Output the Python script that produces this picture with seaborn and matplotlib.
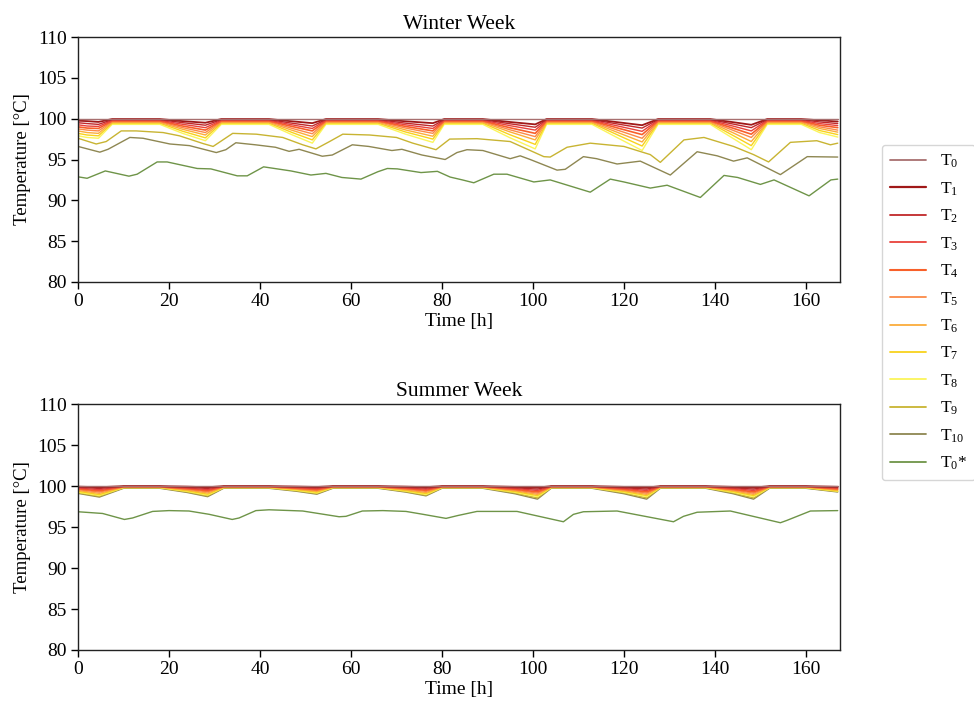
import matplotlib
matplotlib.use("Agg")
import matplotlib.pyplot as plt
from matplotlib.lines import Line2D
import pandas as pd
import seaborn as sns

# ---------------- data ----------------
SERIES = ["T0", "T1", "T2", "T3", "T4", "T5", "T6", "T7", "T8", "T9", "T10", "T0*"]
LABELS = [r"$\mathrm{T_{0}}$", r"$\mathrm{T_{1}}$", r"$\mathrm{T_{2}}$", r"$\mathrm{T_{3}}$",
          r"$\mathrm{T_{4}}$", r"$\mathrm{T_{5}}$", r"$\mathrm{T_{6}}$", r"$\mathrm{T_{7}}$",
          r"$\mathrm{T_{8}}$", r"$\mathrm{T_{9}}$", r"$\mathrm{T_{10}}$", r"$\mathrm{T_{0}}$*"]
COLORS = ["#a87070", "#a01818", "#c0282a", "#e8423c", "#f8602a", "#fb8a48",
          "#fbac3c", "#f8d21c", "#fbf55a", "#c8b432", "#8e8752", "#6e9448"]

X_TICKS = [0, 20, 40, 60, 80, 100, 120, 140, 160]
Y_TICKS = [80, 85, 90, 95, 100, 105, 110]

FLAT_H = [0, 167]
T0_FLAT = [100.0, 100.0]

# ---- Winter week ----
W_FAN_H = [0, 2, 4.5, 7.5, 18, 23, 28, 31.5, 42, 47, 51.5, 54.5, 66, 72, 78, 80.5,
           89, 95, 100.5, 103, 113, 119, 124, 127.5, 139, 144, 148, 151.5, 159, 163, 167]
W_T1 = [99.75, 99.70, 99.60, 99.95, 99.95, 99.70, 99.50, 99.95, 99.95, 99.68, 99.45, 99.95, 99.95, 99.68, 99.45, 99.95,
        99.95, 99.59, 99.30, 99.95, 99.95, 99.54, 99.20, 99.95, 99.95, 99.57, 99.25, 99.95, 99.95, 99.80, 99.65]
W_T2 = [99.50, 99.40, 99.30, 99.88, 99.88, 99.51, 99.20, 99.88, 99.88, 99.45, 99.10, 99.88, 99.88, 99.45, 99.10, 99.88,
        99.88, 99.37, 98.95, 99.88, 99.88, 99.31, 98.85, 99.88, 99.88, 99.34, 98.90, 99.88, 99.88, 99.60, 99.40]
W_T3 = [99.25, 99.10, 99.05, 99.80, 99.80, 99.31, 98.90, 99.80, 99.80, 99.25, 98.80, 99.80, 99.80, 99.25, 98.80, 99.80,
        99.80, 99.14, 98.60, 99.80, 99.80, 99.06, 98.45, 99.80, 99.80, 99.09, 98.50, 99.80, 99.80, 99.40, 99.15]
W_T4 = [99.00, 98.85, 98.80, 99.72, 99.72, 99.10, 98.60, 99.72, 99.72, 99.05, 98.50, 99.72, 99.72, 99.05, 98.50, 99.72,
        99.72, 98.88, 98.20, 99.72, 99.72, 98.80, 98.05, 99.72, 99.72, 98.83, 98.10, 99.72, 99.72, 99.20, 98.90]
W_T5 = [98.75, 98.60, 98.50, 99.64, 99.64, 98.90, 98.30, 99.64, 99.64, 98.82, 98.15, 99.64, 99.64, 98.85, 98.20, 99.64,
        99.64, 98.63, 97.80, 99.64, 99.64, 98.52, 97.60, 99.64, 99.64, 98.57, 97.70, 99.64, 99.64, 99.00, 98.60]
W_T6 = [98.50, 98.30, 98.20, 99.55, 99.55, 98.70, 98.00, 99.55, 99.55, 98.59, 97.80, 99.55, 99.55, 98.62, 97.85, 99.55,
        99.55, 98.37, 97.40, 99.55, 99.55, 98.23, 97.15, 99.55, 99.55, 98.27, 97.20, 99.55, 99.55, 98.80, 98.35]
W_T7 = [98.20, 98.00, 97.90, 99.45, 99.45, 98.46, 97.65, 99.45, 99.45, 98.32, 97.40, 99.45, 99.45, 98.37, 97.50, 99.45,
        99.45, 98.02, 96.85, 99.45, 99.45, 97.91, 96.65, 99.45, 99.45, 97.94, 96.70, 99.45, 99.45, 98.55, 98.05]
W_T8 = [97.90, 97.70, 97.60, 99.30, 99.30, 98.20, 97.30, 99.30, 99.30, 98.04, 97.00, 99.30, 99.30, 98.10, 97.10, 99.30,
        99.30, 97.65, 96.30, 99.30, 99.30, 97.54, 96.10, 99.30, 99.30, 97.58, 96.20, 99.30, 99.30, 98.30, 97.75]

W_T9_H = [0, 4, 6.2, 9.5, 12.8, 18.7, 22.3, 27.5, 29.7, 34, 39.2, 45, 49.4, 52.3, 55.3, 58.2, 64.1, 70, 73.6,
          78.7, 81.7, 87.7, 95, 102.4, 103.8, 107.5, 112.6, 120, 125.8, 128, 133.2, 137.6, 144.1, 148.5,
          151.8, 156.6, 162.4, 165.4, 167]
W_T9 = [97.6, 96.9, 97.2, 98.5, 98.5, 98.3, 97.9, 96.95, 96.6, 98.2, 98.1, 97.7, 96.8, 96.3, 97.2, 98.1, 98.0, 97.7, 97.0,
        96.2, 97.5, 97.55, 97.2, 95.35, 95.3, 96.5, 97.0, 96.6, 95.6, 94.65, 97.4, 97.7, 96.6, 95.6,
        94.7, 97.1, 97.3, 96.8, 97.0]

W_T10_H = [0, 4.8, 6.6, 11.4, 14.3, 20.2, 24.5, 30.4, 32.5, 34.7, 39, 43.4, 46.4, 48.6, 53.7, 55.9, 60.3, 63.9,
           69, 71.2, 75.6, 80.7, 83.3, 85.5, 89, 95, 97.2, 99.4, 105.3, 107.1, 111.1, 114, 118.5, 123.6,
           130.2, 136.1, 140.5, 144.1, 147.1, 154.4, 160.3, 167]
W_T10 = [96.6, 95.9, 96.25, 97.7, 97.6, 96.9, 96.7, 95.85, 96.2, 97.05, 96.8, 96.5, 96.0, 96.25, 95.4, 95.55, 96.8, 96.6,
         96.1, 96.25, 95.55, 95.0, 95.85, 96.2, 96.1, 95.1, 95.45, 95.0, 93.7, 93.8, 95.35, 95.1, 94.45, 94.8,
         93.1, 95.95, 95.45, 94.8, 95.2, 93.15, 95.35, 95.3]

W_T0S_H = [0, 2, 6, 11.2, 13, 17.4, 19.6, 26.2, 29.2, 35, 37.2, 40.8, 43.8, 46.8, 51.2, 54.5, 58, 62.2, 65.9, 68,
           70.2, 75.4, 79, 81.8, 84.5, 87, 91.4, 94.3, 100.2, 103.8, 112.6, 117, 120, 125.8, 129.5, 136.8,
           142, 145, 150, 153, 160.7, 165.5, 167]
W_T0S = [92.88, 92.7, 93.6, 92.96, 93.2, 94.7, 94.7, 93.9, 93.85, 93.0, 93.0, 94.1, 93.85, 93.6, 93.1, 93.3, 92.8, 92.6,
         93.5, 93.9, 93.85, 93.4, 93.55, 92.85, 92.5, 92.15, 93.2, 93.2, 92.25, 92.5, 91.0, 92.6, 92.25, 91.5, 91.85,
         90.35, 93.05, 92.8, 91.95, 92.5, 90.55, 92.5, 92.6]

# ---- Summer week ----
S_FAN_H = [0, 4.7, 10, 18, 24, 28.5, 32, 42, 48, 52.5, 56, 66, 72, 76.5, 80, 89, 96, 101, 104,
           113, 120, 125, 128, 138, 144, 148.5, 152, 160, 167]
S_T1 = [99.92, 99.85, 99.98, 99.98, 99.92, 99.85, 99.98, 99.98, 99.93, 99.88, 99.98, 99.98, 99.92, 99.86, 99.98,
        99.98, 99.89, 99.80, 99.98, 99.98, 99.89, 99.80, 99.98, 99.98, 99.89, 99.80, 99.98, 99.98, 99.90]
S_T2 = [99.85, 99.70, 99.96, 99.96, 99.83, 99.70, 99.96, 99.96, 99.87, 99.78, 99.96, 99.96, 99.85, 99.73, 99.96,
        99.96, 99.79, 99.62, 99.96, 99.96, 99.79, 99.62, 99.96, 99.96, 99.79, 99.62, 99.96, 99.96, 99.82]
S_T3 = [99.75, 99.55, 99.94, 99.94, 99.75, 99.55, 99.94, 99.94, 99.80, 99.66, 99.94, 99.94, 99.77, 99.60, 99.94,
        99.94, 99.70, 99.45, 99.94, 99.94, 99.70, 99.45, 99.94, 99.94, 99.70, 99.45, 99.94, 99.94, 99.74]
S_T4 = [99.65, 99.40, 99.92, 99.92, 99.67, 99.42, 99.92, 99.92, 99.73, 99.55, 99.92, 99.92, 99.70, 99.47, 99.92,
        99.92, 99.60, 99.28, 99.92, 99.92, 99.60, 99.28, 99.92, 99.92, 99.60, 99.28, 99.92, 99.92, 99.65]
S_T5 = [99.55, 99.25, 99.90, 99.90, 99.59, 99.28, 99.90, 99.90, 99.67, 99.45, 99.90, 99.90, 99.62, 99.34, 99.90,
        99.90, 99.51, 99.12, 99.90, 99.90, 99.51, 99.12, 99.90, 99.90, 99.51, 99.12, 99.90, 99.90, 99.57]
S_T6 = [99.45, 99.10, 99.87, 99.87, 99.50, 99.14, 99.87, 99.87, 99.61, 99.35, 99.87, 99.87, 99.53, 99.20, 99.87,
        99.87, 99.42, 98.97, 99.87, 99.87, 99.42, 98.97, 99.87, 99.87, 99.42, 98.97, 99.87, 99.87, 99.50]
S_T7 = [99.35, 98.95, 99.84, 99.84, 99.42, 99.00, 99.84, 99.84, 99.55, 99.25, 99.84, 99.84, 99.46, 99.08, 99.84,
        99.84, 99.33, 98.83, 99.84, 99.84, 99.33, 98.83, 99.84, 99.84, 99.33, 98.83, 99.84, 99.84, 99.43]
S_T8 = [99.25, 98.85, 99.80, 99.80, 99.35, 98.90, 99.80, 99.80, 99.48, 99.16, 99.80, 99.80, 99.39, 98.98, 99.80,
        99.80, 99.25, 98.70, 99.80, 99.80, 99.25, 98.70, 99.80, 99.80, 99.25, 98.70, 99.80, 99.80, 99.37]
S_T9 = [99.18, 98.75, 99.77, 99.77, 99.28, 98.80, 99.77, 99.77, 99.42, 99.08, 99.77, 99.77, 99.32, 98.88, 99.77,
        99.77, 99.16, 98.55, 99.77, 99.77, 99.16, 98.55, 99.77, 99.77, 99.16, 98.55, 99.77, 99.77, 99.32]
S_T10 = [99.10, 98.65, 99.72, 99.72, 99.21, 98.70, 99.72, 99.72, 99.36, 99.00, 99.72, 99.72, 99.26, 98.80, 99.72,
         99.72, 99.06, 98.40, 99.72, 99.72, 99.06, 98.40, 99.72, 99.72, 99.06, 98.40, 99.72, 99.72, 99.27]

S_T0S_H = [0, 5.4, 10.2, 12, 16.4, 20, 24.4, 28.8, 33.9, 35.4, 39.1, 42, 49.4, 57.4, 58.9, 62.5, 67, 72.1, 75.8,
           80.9, 83.5, 87.7, 96.5, 106.7, 108.9, 111.1, 118.5, 130.9, 133.1, 136.1, 143.4, 154.4, 155.8, 161, 167]
S_T0S = [96.86, 96.65, 95.92, 96.1, 96.9, 97.0, 96.95, 96.55, 95.92, 96.1, 97.0, 97.1, 96.95, 96.25, 96.3, 96.95,
         97.0, 96.9, 96.55, 96.05, 96.4, 96.9, 96.9, 95.64, 96.54, 96.86, 96.95, 95.64, 96.3, 96.8, 96.95, 95.52,
         95.8, 96.95, 97.0]

WINTER = {
    "T0": (FLAT_H, T0_FLAT), "T1": (W_FAN_H, W_T1), "T2": (W_FAN_H, W_T2), "T3": (W_FAN_H, W_T3),
    "T4": (W_FAN_H, W_T4), "T5": (W_FAN_H, W_T5), "T6": (W_FAN_H, W_T6), "T7": (W_FAN_H, W_T7),
    "T8": (W_FAN_H, W_T8), "T9": (W_T9_H, W_T9), "T10": (W_T10_H, W_T10), "T0*": (W_T0S_H, W_T0S),
}
SUMMER = {
    "T0": (FLAT_H, T0_FLAT), "T1": (S_FAN_H, S_T1), "T2": (S_FAN_H, S_T2), "T3": (S_FAN_H, S_T3),
    "T4": (S_FAN_H, S_T4), "T5": (S_FAN_H, S_T5), "T6": (S_FAN_H, S_T6), "T7": (S_FAN_H, S_T7),
    "T8": (S_FAN_H, S_T8), "T9": (S_FAN_H, S_T9), "T10": (S_FAN_H, S_T10), "T0*": (S_T0S_H, S_T0S),
}


def long_df(panel):
    parts = []
    for name in SERIES:
        h, v = panel[name]
        parts.append(pd.DataFrame({"hour": h, "temp": v, "series": name}))
    return pd.concat(parts, ignore_index=True)


# ---------------- style ----------------
sns.set_theme(style="ticks")
plt.rcParams["font.family"] = ["Liberation Serif", "DejaVu Serif"]
plt.rcParams["mathtext.fontset"] = "custom"
plt.rcParams["mathtext.rm"] = "Liberation Serif"
plt.rcParams["mathtext.it"] = "Liberation Serif:italic"
plt.rcParams["axes.edgecolor"] = "#222222"
plt.rcParams["axes.linewidth"] = 1.0
plt.rcParams["text.color"] = "black"
plt.rcParams["axes.labelcolor"] = "black"
plt.rcParams["xtick.color"] = "black"
plt.rcParams["ytick.color"] = "black"

fig = plt.figure(figsize=(9.74, 7.10), dpi=100)
L, W = 78 / 974, (840 - 78) / 974
ax_w = fig.add_axes([L, 1 - 282 / 710, W, 245 / 710])
ax_s = fig.add_axes([L, 1 - 650 / 710, W, 246 / 710])

LW = {name: 1.0 for name in SERIES}
LW["T1"] = 1.3
LW["T4"] = 1.2

for ax, panel, title in [(ax_w, WINTER, "Winter Week"), (ax_s, SUMMER, "Summer Week")]:
    df = long_df(panel)
    for name, color in reversed(list(zip(SERIES, COLORS))):
        sub = df[df["series"] == name]
        sns.lineplot(data=sub, x="hour", y="temp", color=color, lw=LW[name],
                     estimator=None, ax=ax, legend=False)
    ax.set_xlim(0, 167.5)
    ax.set_ylim(80, 110)
    ax.set_xticks(X_TICKS)
    ax.set_yticks(Y_TICKS)
    ax.tick_params(axis="both", labelsize=14, length=5, width=1, direction="out",
                   colors="black", pad=3)
    ax.set_xlabel("Time [h]", fontsize=14, labelpad=2)
    ax.set_ylabel("Temperature [°C]", fontsize=13.5, labelpad=5)
    ax.set_title(title, fontsize=15.5, pad=6, color="black")
    for sp in ax.spines.values():
        sp.set_visible(True)

handles = [Line2D([0], [0], color=c, lw=LW[n] + 0.3) for n, c in zip(SERIES, COLORS)]
leg = fig.legend(handles, LABELS, loc="upper left", bbox_to_anchor=(882 / 974, 1 - 145 / 710),
                 fontsize=12.5, frameon=True, fancybox=True, handlelength=2.1,
                 handletextpad=0.8, labelspacing=0.58, borderpad=0.45, borderaxespad=0)
leg.get_frame().set_edgecolor("#cccccc")
leg.get_frame().set_linewidth(1.0)

fig.savefig("out.png", dpi=100)
